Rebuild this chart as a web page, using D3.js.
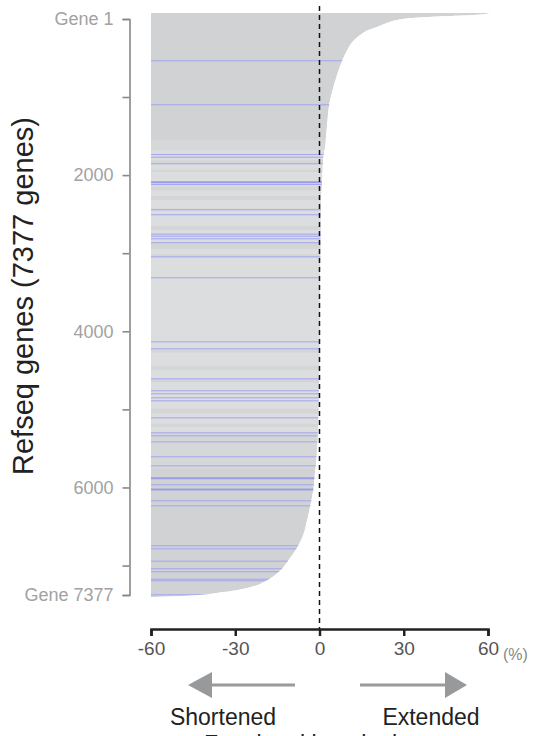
<!DOCTYPE html>
<html>
<head>
<meta charset="utf-8" />
<title>refseq genes</title>
<script src="https://d3js.org/d3.v7.min.js"></script>
<style>
	body { margin: 0; background: #fff; }
	svg { display: block; font-family: "Liberation Sans", Arial, sans-serif; }
</style>
</head>
<body>
<div id="chart"></div>
<script>

// ranked genes: rank -> % change
const curve_rank = [1, 26, 39, 64, 89, 127, 178, 216, 279, 367, 468, 595, 847, 1150, 1416, 1668, 1858, 2110, 2363, 2994, 3626, 4384, 4889, 5268, 5647, 5874, 6025, 6215, 6404, 6594, 6783, 6909, 7035, 7161, 7250, 7314, 7364, 7377];
const curve_value = [61, 55, 46, 33, 27.6, 24, 20.5, 17.4, 14.5, 11.7, 9.9, 8.2, 5.7, 3.5, 2.7, 2.0, 1.2, 0.9, 0.5, 0.3, 0.1, 0, -0.3, -0.6, -1.2, -1.8, -2.2, -3.2, -4.4, -5.8, -8.5, -11, -13.8, -18.5, -24.4, -34, -49, -60];

// highlighted genes (blue rows)
const blue_ranks = [598, 1154, 1782, 1816, 1899, 2132, 2161, 2480, 2543, 2788, 2814, 2846, 2897, 3074, 3339, 4148, 4236, 4615, 4766, 4804, 4855, 4893, 5108, 5297, 5335, 5411, 5600, 5714, 5870, 5954, 6013, 6156, 6219, 6724, 6762, 6918, 7014, 7052, 7146, 7166, 7343];
const blue_thick = [2132, 5870, 6013];

// lighter middle section, its soft edges and the darker stripes inside it
const light_band = [1731, 5394];
const soft_edges = [[1600, 1731], [5394, 5760]];
const dark_stripes = [[1860, 1910], [1980, 2010], [2190, 2240], [2315, 2365], [2470, 2490], [2690, 2740], [2890, 2980], [3050, 3090], [4250, 4290], [4460, 4510], [4625, 4665], [5000, 5060], [5190, 5230], [5300, 5394]];

const y_ticks = [1, 1000, 2000, 3000, 4000, 5000, 6000, 7000, 7377];
const y_tick_labels = ["Gene 1", "", "2000", "", "4000", "", "6000", "", "Gene 7377"];
const x_ticks = [-60, -30, 0, 30, 60];

const n_genes = 7377;
const width = 533, height = 736;

let curve = curve_rank.map((r, i) => ({rank: r, value: curve_value[i]}));

let svg = d3.select("#chart").append("svg")
	.attr("width", width)
	.attr("height", height);

let x = d3.scaleLinear().domain([-60, 60]).range([151, 488]);
let y = d3.scaleLinear().domain([1, n_genes]).range([19, 595]);
// rows are drawn as bands, so they spill a little past the end ticks
let yBar = d3.scaleLinear().domain([1, n_genes]).range([13, 597]);

let area = d3.area()
	.curve(d3.curveMonotoneY)
	.y(d => yBar(d.rank))
	.x0(x(-60))
	.x1(d => x(d.value));

svg.append("clipPath").attr("id", "clip-area")
	.append("path")
	.datum(curve)
	.attr("d", area);

let bars = svg.append("g").attr("clip-path", "url(#clip-area)");

bars.append("path")
	.datum(curve)
	.attr("d", area)
	.attr("fill", "#d1d2d4");

bars.selectAll("rect.soft")
	.data(soft_edges)
	.enter().append("rect")
	.attr("class", "soft")
	.attr("x", x(-60))
	.attr("width", x(60) - x(-60) + 10)
	.attr("y", d => yBar(d[0]))
	.attr("height", d => yBar(d[1]) - yBar(d[0]))
	.attr("fill", "#d6d7d9");

bars.append("rect")
	.attr("x", x(-60))
	.attr("width", x(60) - x(-60) + 10)
	.attr("y", yBar(light_band[0]))
	.attr("height", yBar(light_band[1]) - yBar(light_band[0]))
	.attr("fill", "#dcdddf");

bars.selectAll("rect.stripe")
	.data(dark_stripes)
	.enter().append("rect")
	.attr("class", "stripe")
	.attr("x", x(-60))
	.attr("width", x(60) - x(-60) + 10)
	.attr("y", d => yBar(d[0]))
	.attr("height", d => yBar(d[1]) - yBar(d[0]))
	.attr("fill", "#d4d5d7");

bars.selectAll("line.blue")
	.data(blue_ranks)
	.enter().append("line")
	.attr("class", "blue")
	.attr("x1", x(-60))
	.attr("x2", x(60) + 10)
	.attr("y1", d => yBar(d) + 0.5)
	.attr("y2", d => yBar(d) + 0.5)
	.attr("stroke", d => blue_thick.includes(d) ? "#9a9de6" : "#a3a5ef")
	.attr("stroke-width", d => blue_thick.includes(d) ? 2 : 1);

// zero line
svg.append("line")
	.attr("x1", x(0)).attr("x2", x(0))
	.attr("y1", 6).attr("y2", 629)
	.attr("stroke", "#111")
	.attr("stroke-width", 1.5)
	.attr("stroke-dasharray", "5,4");

// y axis
let yAxis = svg.append("g")
	.attr("transform", "translate(129.5,0)")
	.call(d3.axisLeft(y)
		.tickValues(y_ticks)
		.tickSize(7)
		.tickPadding(9)
		.tickFormat((d, i) => y_tick_labels[i]));
yAxis.select(".domain").attr("stroke", "#888").attr("stroke-width", 1.6);
yAxis.selectAll(".tick line").attr("stroke", "#888").attr("stroke-width", 1.6);
yAxis.selectAll(".tick text")
	.attr("fill", "#a2a2a2")
	.style("font-size", "18px");

svg.append("text")
	.attr("transform", "translate(33," + 296 + ") rotate(-90)")
	.attr("text-anchor", "middle")
	.attr("fill", "#222")
	.style("font-size", "29px")
	.text("Refseq genes (7377 genes)");

// x axis
let xAxis = svg.append("g")
	.attr("transform", "translate(0,629)")
	.call(d3.axisBottom(x)
		.tickValues(x_ticks)
		.tickSize(7)
		.tickSizeOuter(7)
		.tickPadding(6)
		.tickFormat(d => String(d)));
xAxis.select(".domain").attr("stroke", "#222").attr("stroke-width", 2.5);
xAxis.selectAll(".tick line").attr("stroke", "#222").attr("stroke-width", 2.5);
xAxis.selectAll(".tick text")
	.attr("fill", "#555")
	.style("font-size", "19px");

svg.append("text")
	.attr("x", 503).attr("y", 660)
	.attr("fill", "#888")
	.style("font-size", "16px")
	.text("(%)");

// direction arrows
let arrows = [
	{from: 295, to: 212, tip: 188, label: "Shortened", cx: 223},
	{from: 360, to: 445, tip: 467, label: "Extended", cx: 431}
];
let arrow_g = svg.append("g");
arrow_g.selectAll("line")
	.data(arrows)
	.enter().append("line")
	.attr("x1", d => d.from).attr("x2", d => d.to)
	.attr("y1", 685).attr("y2", 685)
	.attr("stroke", "#9a9a9c")
	.attr("stroke-width", 3);
arrow_g.selectAll("path")
	.data(arrows)
	.enter().append("path")
	.attr("d", d => "M" + d.tip + ",685L" + d.to + ",672L" + d.to + ",698Z")
	.attr("fill", "#98999b");
arrow_g.selectAll("text")
	.data(arrows)
	.enter().append("text")
	.attr("x", d => d.cx).attr("y", 725)
	.attr("text-anchor", "middle")
	.attr("fill", "#222")
	.style("font-size", "23px")
	.text(d => d.label);

// caption cut by the bottom edge, as in the source figure
svg.append("text")
	.attr("x", 330).attr("y", 752)
	.attr("text-anchor", "middle")
	.attr("fill", "#222")
	.style("font-size", "23px")
	.text("Fractional length change");

</script>
</body>
</html>
